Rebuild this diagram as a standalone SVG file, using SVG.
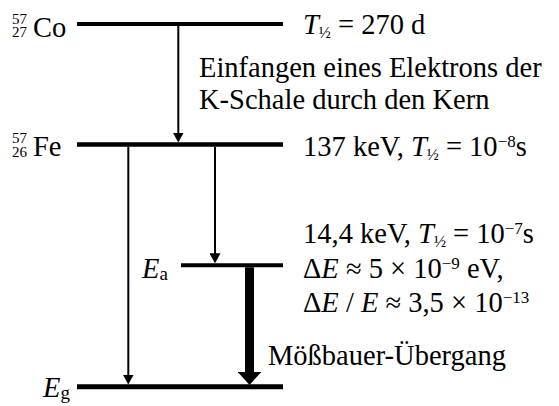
<svg xmlns="http://www.w3.org/2000/svg" width="559" height="406" viewBox="0 0 559 406" font-family="'Times New Roman', 'Liberation Serif', serif">
<style>
.lvl{stroke:#000;fill:none}
.thin{stroke:#000;stroke-width:2;fill:none}
.thick{stroke:#000;stroke-width:9;fill:none}
</style>
<defs>
<marker id="ah" viewBox="0 0 10 11" refX="7" refY="5.5" markerWidth="10" markerHeight="11" markerUnits="userSpaceOnUse" orient="auto">
<path d="M0,0 L10,5.5 L0,11 z" fill="#000"/>
</marker>
<marker id="ahb" viewBox="0 0 13 23.5" refX="2" refY="11.75" markerWidth="13" markerHeight="23.5" markerUnits="userSpaceOnUse" orient="auto">
<path d="M0,0 L13,11.75 L0,23.5 z" fill="#000"/>
</marker>
</defs>
<g id="level-co">
<line class="lvl" x1="77" y1="24" x2="283" y2="24" stroke-width="4"/>
<text font-size="15" x="12" y="24">57</text>
<text font-size="15" x="12" y="37">27</text>
<text font-size="28.5" x="33" y="37">Co</text>
<text font-size="28.5" x="303" y="34"><tspan font-style="italic">T</tspan><tspan font-size="16" dy="4">½</tspan><tspan dy="-4"> = 270 d</tspan></text>
</g>
<g id="capture-label">
<text font-size="28.5" x="199" y="77">Einfangen eines Elektrons der</text>
<text font-size="28.5" x="199" y="109">K-Schale durch den Kern</text>
</g>
<g id="level-fe">
<line class="lvl" x1="77" y1="144.5" x2="283" y2="144.5" stroke-width="4.5"/>
<text font-size="15" x="12" y="143">57</text>
<text font-size="15" x="12" y="157">26</text>
<text font-size="28.5" x="33" y="156">Fe</text>
<text font-size="28.5" x="303" y="155.7">137 keV, <tspan font-style="italic">T</tspan><tspan font-size="16" dy="4">½</tspan><tspan dy="-4"> = 10</tspan><tspan font-size="17" dy="-9">−8</tspan><tspan dy="9">s</tspan></text>
</g>
<g id="level-ea">
<line class="lvl" x1="181" y1="265.3" x2="283" y2="265.3" stroke-width="4"/>
<text font-size="28.5" x="142" y="278"><tspan font-style="italic">E</tspan><tspan font-size="19" dy="2">a</tspan></text>
<text font-size="28.5" x="303" y="243">14,4 keV, <tspan font-style="italic">T</tspan><tspan font-size="16" dy="4">½</tspan><tspan dy="-4"> = 10</tspan><tspan font-size="17" dy="-9">−7</tspan><tspan dy="9">s</tspan></text>
<text font-size="28.5" x="303" y="278">Δ<tspan font-style="italic">E</tspan> ≈ 5 × 10<tspan font-size="17" dy="-9">−9</tspan><tspan dy="9"> eV,</tspan></text>
<text font-size="28.5" x="303" y="312">Δ<tspan font-style="italic">E</tspan> / <tspan font-style="italic">E</tspan> ≈ 3,5 × 10<tspan font-size="17" dy="-9">−13</tspan></text>
</g>
<g id="level-eg">
<line class="lvl" x1="77" y1="386.8" x2="283" y2="386.8" stroke-width="5"/>
<text font-size="28.5" x="43" y="397"><tspan font-style="italic">E</tspan><tspan font-size="19" dy="2">g</tspan></text>
</g>
<g id="moessbauer-label">
<text font-size="28.5" x="268" y="365">Mößbauer-Übergang</text>
</g>
<g id="connectors">
<line class="thin" x1="178.3" y1="26" x2="178.3" y2="139.5" marker-end="url(#ah)"/>
<line class="thin" x1="128.3" y1="146.8" x2="128.3" y2="381.5" marker-end="url(#ah)"/>
<line class="thin" x1="215" y1="146.8" x2="215" y2="260.3" marker-end="url(#ah)"/>
<line class="thick" x1="249.5" y1="267.3" x2="249.5" y2="374" marker-end="url(#ahb)"/>
</g>
</svg>
